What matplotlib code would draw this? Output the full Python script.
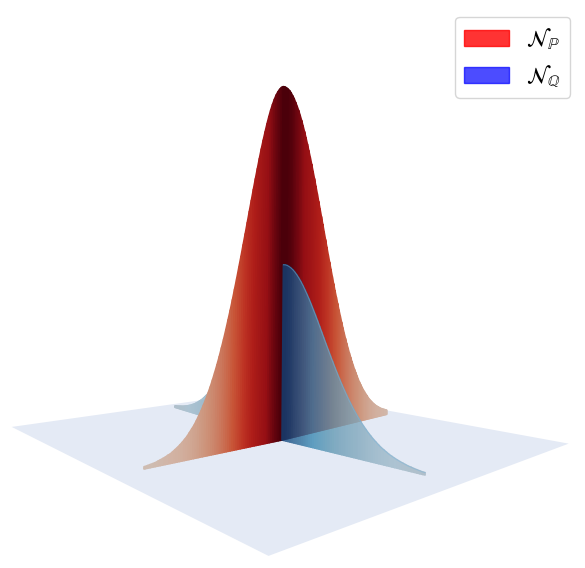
import numpy as np, matplotlib
matplotlib.use('Agg')
import matplotlib.pyplot as plt
from matplotlib.patches import Patch
from matplotlib.colors import LinearSegmentedColormap as LSC
from mpl_toolkits.mplot3d.art3d import Poly3DCollection
plt.rcParams['mathtext.fontset'] = 'stix'

W, H = 585, 568
labels = [r'$\mathcal{N}_{\mathbb{P}}$', r'$\mathcal{N}_{\mathbb{Q}}$']
peak_red, peak_blue = 0.937, 0.455
step = 0.0125
# relative density (per mille) read along each half of the curtains, one value per step
near_profile = [1000, 999, 995, 988, 979, 968, 954, 938, 920, 900, 878, 854, 829, 803, 775, 746,
                717, 687, 656, 625, 594, 563, 533, 502, 473, 443, 415, 387, 360, 335, 310, 286,
                264, 242, 222, 203, 185, 168, 153, 138, 125, 112, 101, 90, 80, 72, 64, 56,
                50, 44, 39, 34, 30, 26, 22, 20, 17, 15, 13, 11, 9, 8, 7, 6, 5]
far_profile = [1000, 999, 997, 994, 989, 982, 975, 965, 955, 944, 931, 917, 902, 886, 869, 851,
               832, 813, 793, 772, 751, 729, 707, 684, 662, 639, 616, 593, 570, 547, 524, 502,
               480, 458, 436, 415, 395, 375, 355, 336, 317, 299, 282, 265, 249, 234, 219, 205,
               191, 179, 166, 155, 144, 133, 123, 114, 105, 97, 90, 82, 76, 69, 63, 58,
               53, 48, 44, 40, 36, 33, 30, 27, 24, 22, 20, 18, 16, 14, 13, 11, 10, 9]
cross = (0.107, -0.042)
red_near_end, red_far_end = (0.11, -0.847), (0.04, 0.921)
blue_near_end, blue_far_end = (0.852, 0.018), (-0.883, 0.006)
ground_corners = [(-0.949, -1.012, 0), (1, -1, 0), (0.996, 1.051, 0), (-1, 1, 0)]


def stops(*s):
    return [(f, (r / 255, g / 255, b / 255)) for f, r, g, b in s]


cm_red = LSC.from_list('r', stops((0, 205, 190, 180), (.02, 210, 180, 165), (.125, 205, 150, 125), (.4, 200, 85, 55),
                                  (.55, 190, 52, 36), (.69, 175, 30, 25), (.89, 150, 15, 20), (.97, 105, 5, 15),
                                  (1, 75, 0, 10)))
cm_blue = LSC.from_list('b', stops((0, 162, 178, 188), (.04, 156, 184, 200), (.185, 128, 167, 188), (.47, 94, 150, 177),
                                   (.74, 54, 135, 177), (.95, 30, 90, 140), (1, 13, 68, 124)))

fig = plt.figure(figsize=(W / 100, H / 100), dpi=100)
ax = fig.add_axes([-52 / W, -7.92 / H, 635.95 / W, 635.95 / H], projection='3d', computed_zorder=False)
ax.set_xlim(-1, 1); ax.set_ylim(-1, 1); ax.set_zlim(0, 1)
ax.view_init(-4.137, -41.447, -0.5258)
ax.set_proj_type('persp', focal_length=0.1752)
ax.set_box_aspect((1.1182, 1, 1))
ax.set_axis_off(); ax.patch.set_alpha(0)

ground = Poly3DCollection([ground_corners], facecolor='#e4eaf5', edgecolor='none', zorder=1)
ground.set_clip_on(False)
ax.add_collection3d(ground)


def fade(alpha):
    def f(img, dpi):
        out = img.copy()
        out[..., 3] *= alpha
        return out, 0, 0
    return f


def curtain(end, profile, peak, cmap, alpha, z, rim=None):
    c = np.array(cross); e = np.array(end)
    L = np.linalg.norm(e - c); u = (e - c) / L
    rel = np.array(profile) / 1000
    d = np.arange(len(rel)) * step
    keep = d < L
    d = np.append(d[keep], L); h = np.append(rel[keep], rel[keep][-1]) * peak
    pts = c + d[:, None] * u
    polys = [[(*pts[i], 0), (*pts[i + 1], 0), (*pts[i + 1], h[i + 1]), (*pts[i], h[i])] for i in range(len(d) - 1)]
    col = cmap((h[:-1] + h[1:]) / 2 / peak)
    pc = Poly3DCollection(polys, facecolors=col, edgecolors=col, linewidths=1.2, zorder=z)
    pc.set_clip_on(False)
    if alpha < 1:
        pc.set_agg_filter(fade(alpha))
    ax.add_collection3d(pc)
    if rim:
        ax.plot(pts[:, 0], pts[:, 1], h, color=rim, lw=0.7, alpha=0.5, zorder=z + 1, clip_on=False)


curtain(blue_far_end, far_profile, peak_blue, cm_blue, 0.88, 2)
curtain(red_far_end, far_profile, peak_red, cm_red, 1, 3)
curtain(red_near_end, near_profile, peak_red, cm_red, 1, 4)
curtain(blue_near_end, near_profile, peak_blue, cm_blue, 0.88, 5, rim='#7ab4da')

fig.legend(handles=[Patch(color='red', alpha=.8, label=labels[0]), Patch(color='blue', alpha=.7, label=labels[1])],
           loc='upper right', bbox_to_anchor=(570 / W, 1 - 17 / H), borderaxespad=0, fontsize=16,
           handlelength=2, labelspacing=.55)
fig.savefig('out.png', dpi=100)
